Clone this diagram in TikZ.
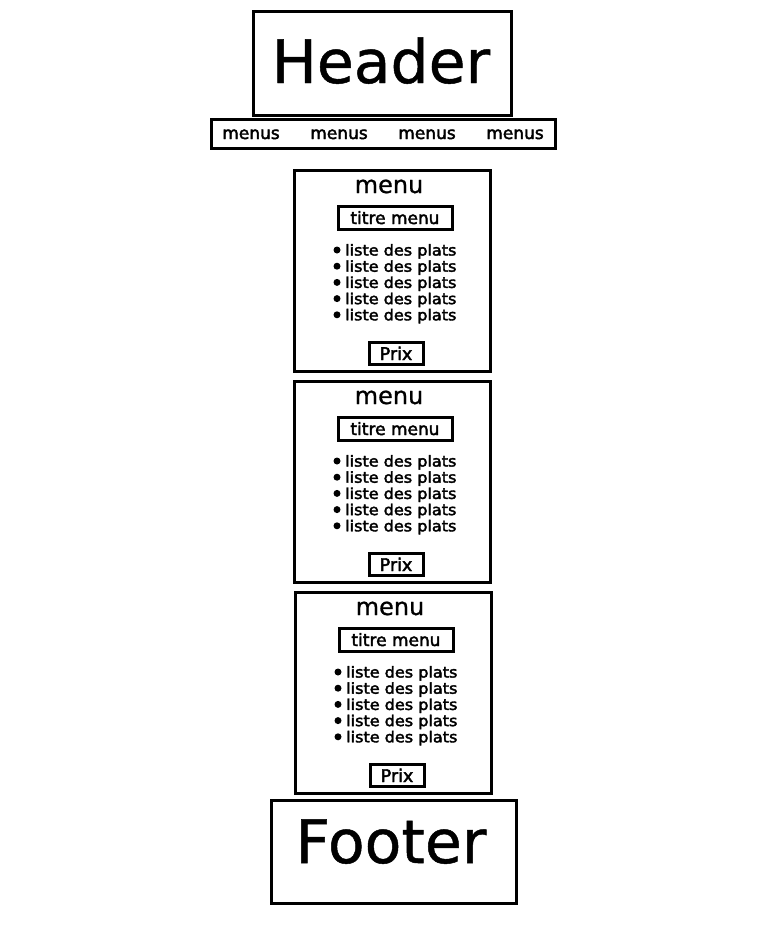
\documentclass[tikz,border=0pt]{standalone}
\usepackage{fontspec}
\setmainfont{DejaVu Sans}
\newfontfamily\heavyfont[FakeBold=2.5]{DejaVu Sans}
\newfontfamily\midfont[FakeBold=0.8]{DejaVu Sans}
\begin{document}
\begin{tikzpicture}[x=1pt,y=-1pt,
  box/.style={draw=black,line width=3pt,rectangle,inner sep=0pt,fill=none},
  bigtxt/.style={font=\midfont\fontsize{60}{60}\selectfont,anchor=base,inner sep=0pt},
  bartxt/.style={font=\heavyfont\fontsize{17}{17}\selectfont,anchor=base,inner sep=0pt},
  ttl/.style={font=\midfont\fontsize{24}{24}\selectfont,anchor=base,inner sep=0pt},
  smalltxt/.style={font=\heavyfont\fontsize{17}{17}\selectfont,anchor=base,inner sep=0pt},
  listtxt/.style={font=\heavyfont\fontsize{15}{15}\selectfont,anchor=base west,inner sep=0pt},
  bul/.style={circle,fill=black,inner sep=0pt,minimum size=7pt}
]
\useasboundingbox[fill=white] (0,0) rectangle (768,950);
% Header
\node[box,minimum width=258pt,minimum height=103pt] (header) at (382,63.5) {};
\node[bigtxt] (headertxt) at (381,83) {Header};
% menus bar
\node[box,minimum width=344pt,minimum height=29pt] (bar) at (383,133.5) {};
\foreach \i/\x in {1/251,2/339,3/427,4/515}{
  \node[bartxt] (barm\i) at (\x,139) {menus};
}
% menu boxes
\foreach \k/\dx in {0/0,1/0,2/1}{
  \pgfmathsetmacro{\yo}{170+211*\k}
  \node[box,minimum width=196pt,minimum height=201pt] (menu\k) at (392+\dx,\yo+100.5) {};
  \node[ttl] (menuttl\k) at (389+\dx,\yo+23) {menu};
  \node[box,minimum width=114pt,minimum height=23pt] (titre\k) at (395+\dx,\yo+47.5) {};
  \node[smalltxt] (titretxt\k) at (395+\dx,\yo+54) {titre menu};
  \foreach \j in {0,...,4}{
    \node[bul] (b\k\j) at (337+\dx,\yo+80+16.2*\j) {};
    \node[listtxt] (l\k\j) at (345+\dx,\yo+85.5+16.2*\j) {\scalebox{1.07}[1]{liste des plats}};
  }
  \node[box,minimum width=54pt,minimum height=22pt] (prix\k) at (396+\dx,\yo+183) {};
  \node[smalltxt,font=\heavyfont\fontsize{17.5}{17.5}\selectfont] (prixtxt\k) at (396+\dx,\yo+190) {Prix};
}
% Footer
\node[box,minimum width=245pt,minimum height=103pt] (footer) at (393.5,851.5) {};
\node[bigtxt] (footertxt) at (391,863) {Footer};
\end{tikzpicture}
\end{document}
